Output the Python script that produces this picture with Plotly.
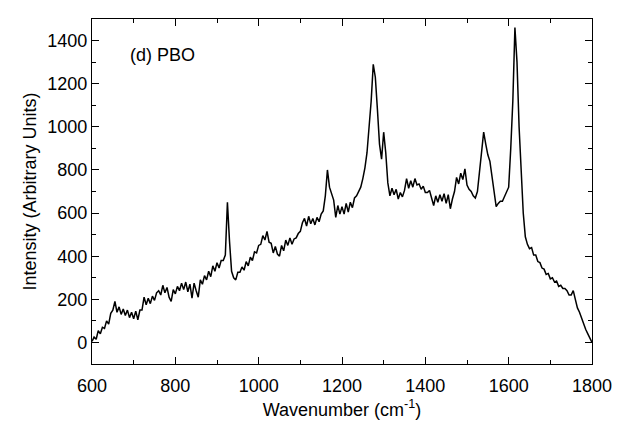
import plotly.graph_objects as go

# Wavenumber sampling positions (cm^-1), every 5 cm^-1
wavenumber = list(range(600, 1801, 5))

# Intensity, grouped per 100 cm^-1
intensity = [
    # 600-695
    5, 25, 15, 55, 40, 70, 65, 100, 85, 135, 150, 190, 140, 165, 130, 155, 125, 150, 115, 140,
    # 700-795
    110, 145, 105, 150, 150, 210, 175, 205, 180, 215, 195, 230, 240, 220, 265, 230, 255, 210, 190, 245,
    # 800-895
    225, 260, 240, 275, 245, 280, 235, 270, 205, 275, 240, 210, 290, 270, 310, 290, 330, 305, 355, 330,
    # 900-995
    370, 345, 380, 380, 405, 650, 470, 330, 300, 290, 325, 325, 350, 335, 375, 355, 395, 380, 420, 415,
    # 1000-1095
    450, 455, 495, 475, 515, 465, 460, 415, 445, 410, 400, 450, 425, 475, 450, 485, 455, 480, 485, 505,
    # 1100-1195
    515, 555, 575, 540, 585, 550, 575, 545, 580, 560, 595, 610, 680, 800, 720, 690, 660, 580, 635, 595,
    # 1200-1295
    630, 595, 645, 605, 650, 625, 670, 680, 700, 720, 760, 810, 880, 990, 1120, 1290, 1230, 1080, 920, 850,
    # 1300-1395
    975, 880, 740, 680, 715, 685, 710, 665, 695, 675, 705, 760, 715, 750, 720, 760, 730, 735, 710, 725,
    # 1400-1495
    695, 695, 705, 670, 635, 680, 650, 685, 655, 690, 645, 685, 620, 665, 700, 765, 735, 785, 755, 805,
    # 1500-1595
    730, 710, 700, 680, 670, 700, 790, 900, 975, 920, 870, 840, 770, 680, 630, 645, 655, 655, 675, 695,
    # 1600-1695
    720, 900, 1120, 1460, 1300, 1000, 780, 600, 490, 455, 435, 440, 405, 405, 375, 370, 345, 340, 315, 320,
    # 1700-1800
    295, 300, 280, 285, 260, 265, 250, 250, 240, 220, 220, 240, 200, 160, 140, 110, 85, 60, 40, 20, 0,
]

x_ticks = [600, 800, 1000, 1200, 1400, 1600, 1800]
y_ticks = [0, 200, 400, 600, 800, 1000, 1200, 1400]

FONT = "Liberation Sans, Arial, sans-serif"

fig = go.Figure()
fig.add_trace(go.Scatter(
    x=wavenumber, y=intensity, mode="lines",
    line=dict(color="black", width=1.5),
    showlegend=False, hoverinfo="skip",
))

axis_common = dict(
    showline=True, linecolor="black", linewidth=1.3, mirror="ticks",
    ticks="inside", ticklen=7, tickwidth=1.2, tickcolor="black",
    showgrid=False, zeroline=False, automargin=False,
    tickfont=dict(family=FONT, size=18, color="black"),
)

fig.update_xaxes(
    range=[600, 1800], tickvals=x_ticks, ticklabelstandoff=5,
    minor=dict(dtick=100, ticks="inside", ticklen=4, tickwidth=1.2, tickcolor="black"),
    title=dict(text="Wavenumber (cm<sup>-1</sup>)", font=dict(family=FONT, size=18, color="black"), standoff=8),
    **axis_common,
)
fig.update_yaxes(
    range=[-100, 1500], tickvals=y_ticks,
    minor=dict(dtick=100, ticks="inside", ticklen=4, tickwidth=1.2, tickcolor="black"),
    title=dict(text="Intensity (Arbitrary Units)", font=dict(family=FONT, size=18, color="black"), standoff=5),
    **axis_common,
)

fig.add_annotation(
    x=686, y=1331, xref="x", yref="y", text="(d) PBO", showarrow=False,
    xanchor="left", yanchor="middle", font=dict(family=FONT, size=18, color="black"),
)

fig.update_layout(
    width=621, height=421,
    margin=dict(l=92, r=29, t=19, b=57),
    paper_bgcolor="white", plot_bgcolor="white",
)

fig.write_html("out.html")
